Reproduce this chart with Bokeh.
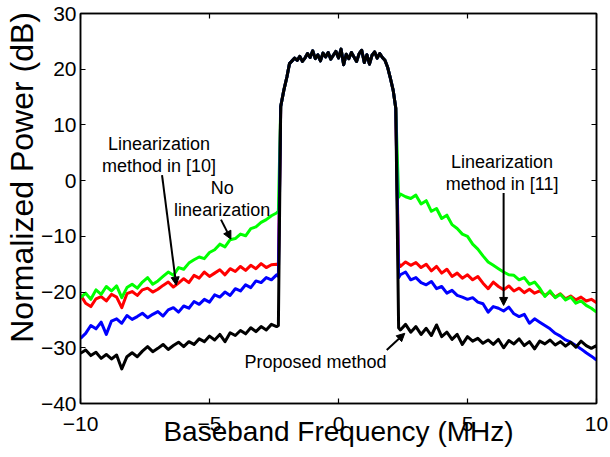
from bokeh.plotting import figure
from bokeh.models import (ColumnDataSource, Arrow, NormalHead, LinearAxis, FixedTicker,
                          CustomJSTickFormatter, Range1d)
from bokeh.core.properties import value
from bokeh.embed import file_html
from bokeh.resources import INLINE

FONT = "Liberation Sans"

# ---------------- data ----------------
freq_left = [-10.0, -9.8, -9.6, -9.4, -9.2, -9.0, -8.8, -8.6, -8.4, -8.2,
             -8.0, -7.8, -7.6, -7.4, -7.2, -7.0, -6.8, -6.6, -6.4, -6.2,
             -6.0, -5.8, -5.6, -5.4, -5.2, -5.0, -4.8, -4.6, -4.4, -4.2,
             -4.0, -3.8, -3.6, -3.4, -3.2, -3.0, -2.8, -2.6, -2.4, -2.33]
freq_band = [-2.24, -2.12, -2.0, -1.9, -1.8, -1.7, -1.6, -1.5, -1.4, -1.3,
             -1.2, -1.1, -1.0, -0.9, -0.8, -0.7, -0.6, -0.5, -0.4, -0.3,
             -0.2, -0.1, 0.0, 0.1, 0.2, 0.3, 0.4, 0.5, 0.6, 0.7,
             0.8, 0.9, 1.0, 1.1, 1.2, 1.3, 1.4, 1.5, 1.6, 1.7,
             1.8, 1.9, 2.0, 2.12, 2.22]
freq_right = [2.33, 2.4, 2.6, 2.8, 3.0, 3.2, 3.4, 3.6, 3.8, 4.0,
              4.2, 4.4, 4.6, 4.8, 5.0, 5.2, 5.4, 5.6, 5.8, 6.0,
              6.2, 6.4, 6.6, 6.8, 7.0, 7.2, 7.4, 7.6, 7.8, 8.0,
              8.2, 8.4, 8.6, 8.8, 9.0, 9.2, 9.4, 9.6, 9.8, 10.0]

band_power = [13.3, 16.2, 18.6, 21.0, 21.5, 22.0, 21.6, 22.3, 21.4, 22.0,
              22.8, 22.1, 23.3, 21.9, 22.6, 21.5, 22.9, 22.2, 23.0, 21.8,
              22.5, 23.2, 22.0, 23.6, 20.8, 22.7, 21.9, 23.0, 22.2, 21.4,
              22.8, 23.4, 21.2, 22.6, 20.9, 22.5, 23.1, 22.0, 22.8, 22.1,
              21.6, 20.4, 18.6, 16.2, 13.0]

green_left = [-21.0, -20.2, -21.3, -19.6, -20.4, -19.0, -19.8, -18.9, -21.0, -19.2,
              -18.6, -19.3, -18.2, -17.4, -18.6, -18.0, -17.2, -16.4, -17.0, -15.6,
              -15.9, -14.8, -14.2, -13.7, -14.0, -12.9, -12.4, -11.4, -11.9, -10.6,
              -10.4, -9.6, -9.9, -8.6, -8.3, -7.5, -7.0, -6.3, -5.8, -5.5]
green_right = [-3.0, -2.4, -2.9, -3.2, -2.6, -4.2, -3.6, -5.5, -5.0, -6.8,
               -6.2, -7.9, -8.6, -9.6, -10.0, -11.4, -12.3, -13.5, -14.6, -15.2,
               -15.8, -16.4, -16.9, -17.0, -17.8, -17.4, -18.6, -18.2, -19.3, -20.8,
               -19.8, -21.0, -20.4, -21.4, -20.9, -22.0, -21.6, -22.4, -22.9, -23.6]

red_left = [-20.5, -22.0, -22.6, -21.2, -20.8, -21.6, -20.4, -20.9, -22.8, -20.3,
            -19.9, -20.6, -19.6, -19.3, -20.0, -19.5, -18.8, -18.2, -19.1, -18.4,
            -17.6, -18.3, -17.0, -17.5, -16.4, -17.2, -16.6, -16.0, -16.9, -15.8,
            -16.3, -15.4, -16.1, -15.2, -15.8, -14.9, -15.6, -15.1, -15.0, -15.2]
red_right = [-14.8, -15.4, -14.6, -15.2, -14.7, -15.6, -15.0, -16.2, -15.4, -16.6,
             -15.9, -17.2, -16.6, -17.5, -16.9, -17.8, -17.2, -18.4, -19.4, -18.2,
             -19.0, -19.6, -18.9, -19.8, -19.3, -20.1, -19.5, -20.2, -19.8, -20.6,
             -20.0, -20.9, -20.3, -21.2, -20.7, -21.4, -20.9, -21.6, -21.3, -21.9]

blue_left = [-28.3, -27.4, -26.0, -26.6, -25.4, -27.6, -25.2, -24.8, -25.6, -24.2,
             -24.9, -24.4, -23.8, -24.6, -24.0, -23.5, -24.3, -23.2, -22.8, -23.6,
             -22.5, -22.9, -21.7, -22.2, -21.3, -21.8, -20.5, -20.9, -20.0, -20.6,
             -19.4, -19.8, -18.7, -19.2, -18.0, -18.3, -17.4, -17.8, -16.9, -17.2]
blue_right = [-17.4, -16.9, -16.4, -17.8, -17.4, -18.3, -18.7, -18.1, -19.4, -19.0,
              -20.2, -19.7, -20.6, -20.9, -21.3, -21.0, -21.8, -22.1, -23.6, -22.6,
              -22.9, -23.4, -22.7, -23.9, -24.4, -24.0, -25.6, -24.8, -25.4, -26.0,
              -26.6, -27.4, -27.9, -28.6, -29.0, -29.6, -30.2, -30.9, -31.5, -32.2]

black_left = [-31.0, -30.4, -31.4, -30.8, -31.9, -31.2, -32.0, -31.3, -33.8, -31.6,
              -30.9, -31.6, -30.6, -29.8, -30.7, -30.1, -29.4, -30.3, -29.6, -29.0,
              -29.8, -28.9, -29.4, -28.4, -28.9, -27.9, -28.6, -27.6, -28.9, -27.3,
              -27.8, -26.9, -27.5, -26.4, -27.1, -26.2, -26.8, -25.8, -26.2, -26.0]
black_right = [-26.4, -26.8, -25.8, -27.2, -26.2, -27.6, -26.5, -27.8, -25.9, -28.0,
               -27.2, -28.5, -27.6, -29.4, -28.0, -28.8, -28.3, -29.2, -28.6, -29.4,
               -28.5, -30.0, -28.7, -29.3, -28.4, -29.6, -28.9, -30.2, -28.8, -29.3,
               -28.6, -29.5, -28.9, -29.7, -29.0, -29.9, -28.8, -29.6, -30.1, -29.6]

x_ticks = [-10, -5, 0, 5, 10]
y_ticks = [-40, -30, -20, -10, 0, 10, 20, 30]

x_title = "Baseband Frequency (MHz)"
y_title = "Normalized Power (dB)"

ann_text = ["Linearization\nmethod in [10]", "No\nlinearization",
            "Linearization\nmethod in [11]", "Proposed method"]
ann_x = [-6.96, -4.51, 6.34, -0.89]
ann_y = [4.6, -3.27, 1.35, -32.6]

arr_x0 = [-6.84, -4.555, 6.40, 1.87]
arr_y0 = [1.0, -7.0, -2.2, -30.4]
arr_x1 = [-6.29, -4.17, 6.40, 2.57]
arr_y1 = [-18.75, -10.5, -22.4, -27.4]

# ---------------- figure ----------------
p = figure(width=610, height=457, output_backend="svg", toolbar_location=None,
           x_range=Range1d(-10, 10), y_range=Range1d(-40, 30),
           min_border_left=77, min_border_right=14, min_border_top=13, min_border_bottom=54,
           x_axis_label=x_title,
           # the original title sits above the frame centre; pad its start to shift it up
           y_axis_label="\u00a0" * 7 + y_title)
p.background_fill_color = "white"
p.border_fill_color = "white"
p.xgrid.grid_line_color = None
p.ygrid.grid_line_color = None
p.outline_line_color = "black"
p.outline_line_width = 1.5

fmt_code = "return tick < 0 ? '\u2212' + Math.abs(tick) : String(tick);"

def style_axis(ax, ticks, show_labels=True):
    ax.ticker = FixedTicker(ticks=ticks)
    ax.formatter = CustomJSTickFormatter(code=fmt_code)
    ax.major_tick_in = 5
    ax.major_tick_out = 0
    ax.minor_tick_line_color = None
    ax.axis_line_width = 1.5
    ax.major_tick_line_width = 1.2
    ax.major_label_text_font = FONT
    if show_labels:
        ax.major_label_text_font_size = "21px"
        ax.major_label_text_color = "black"
    else:
        ax.major_label_text_font_size = "1px"
        ax.major_label_text_color = None
        ax.major_label_standoff = 0

style_axis(p.xaxis[0], x_ticks)
style_axis(p.yaxis[0], y_ticks)
p.xaxis[0].major_label_standoff = 13
p.yaxis[0].major_label_standoff = 4
for ax, size, st in ((p.xaxis[0], "28px", -18), (p.yaxis[0], "32px", -2)):
    ax.axis_label_text_font = FONT
    ax.axis_label_text_font_size = size
    ax.axis_label_text_font_style = "normal"
    ax.axis_label_text_color = "black"
    ax.axis_label_standoff = st

top_ax = LinearAxis()
style_axis(top_ax, x_ticks, show_labels=False)
p.add_layout(top_ax, "above")
right_ax = LinearAxis()
style_axis(right_ax, y_ticks, show_labels=False)
p.add_layout(right_ax, "right")

series = [
    (red_left, red_right, "#ff0000"),
    (green_left, green_right, "#00ff00"),
    (blue_left, blue_right, "#0000ff"),
    (black_left, black_right, "#000000"),
]
for left, right, color in series:
    src = ColumnDataSource(dict(f=freq_left + freq_band + freq_right,
                                pw=left + band_power + right))
    p.line("f", "pw", source=src, line_color=color, line_width=3, line_join="round")

txt_src = ColumnDataSource(dict(x=ann_x, y=ann_y, t=ann_text))
p.text("x", "y", text="t", source=txt_src, text_font=value(FONT),
       text_font_size="18px", text_align="center", text_baseline="middle",
       text_line_height=1.1, text_color="black")

arr_src = ColumnDataSource(dict(x0=arr_x0, y0=arr_y0, x1=arr_x1, y1=arr_y1))
p.add_layout(Arrow(end=NormalHead(size=8, fill_color="black", line_color="black"),
                   x_start="x0", y_start="y0", x_end="x1", y_end="y1",
                   source=arr_src, line_width=2, line_color="black"))

open("out.html", "w").write(file_html(p, INLINE))
